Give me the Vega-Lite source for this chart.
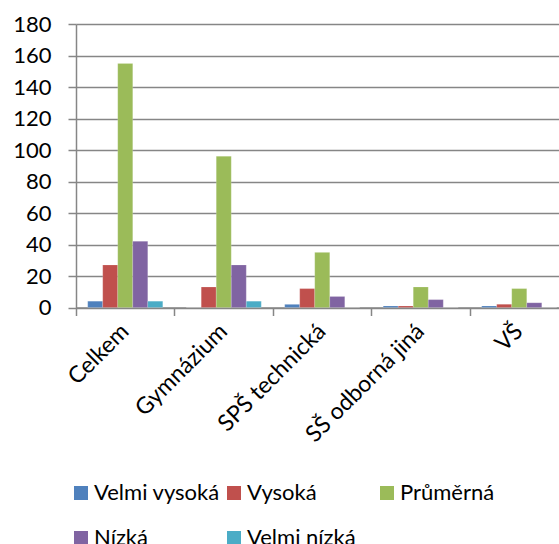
{
  "$schema": "https://vega.github.io/schema/vega-lite/v6.json",
  "autosize": {"type": "none"},
  "padding": {"left": 76, "top": 24, "right": 0, "bottom": 236.5},
  "width": 483,
  "height": 283.5,
  "background": "white",
  "config": {
    "font": "Lato",
    "view": {"stroke": null}
  },
  "data": {
    "values": [
      {"skola": "Celkem", "uroven": "Velmi vysoká", "pocet": 4},
      {"skola": "Celkem", "uroven": "Vysoká", "pocet": 27},
      {"skola": "Celkem", "uroven": "Průměrná", "pocet": 155},
      {"skola": "Celkem", "uroven": "Nízká", "pocet": 42},
      {"skola": "Celkem", "uroven": "Velmi nízká", "pocet": 4},
      {"skola": "Gymnázium", "uroven": "Velmi vysoká", "pocet": 0},
      {"skola": "Gymnázium", "uroven": "Vysoká", "pocet": 13},
      {"skola": "Gymnázium", "uroven": "Průměrná", "pocet": 96},
      {"skola": "Gymnázium", "uroven": "Nízká", "pocet": 27},
      {"skola": "Gymnázium", "uroven": "Velmi nízká", "pocet": 4},
      {"skola": "SPŠ technická", "uroven": "Velmi vysoká", "pocet": 2},
      {"skola": "SPŠ technická", "uroven": "Vysoká", "pocet": 12},
      {"skola": "SPŠ technická", "uroven": "Průměrná", "pocet": 35},
      {"skola": "SPŠ technická", "uroven": "Nízká", "pocet": 7},
      {"skola": "SPŠ technická", "uroven": "Velmi nízká", "pocet": 0},
      {"skola": "SŠ odborná jiná", "uroven": "Velmi vysoká", "pocet": 1},
      {"skola": "SŠ odborná jiná", "uroven": "Vysoká", "pocet": 1},
      {"skola": "SŠ odborná jiná", "uroven": "Průměrná", "pocet": 13},
      {"skola": "SŠ odborná jiná", "uroven": "Nízká", "pocet": 5},
      {"skola": "SŠ odborná jiná", "uroven": "Velmi nízká", "pocet": 0},
      {"skola": "VŠ", "uroven": "Velmi vysoká", "pocet": 1},
      {"skola": "VŠ", "uroven": "Vysoká", "pocet": 2},
      {"skola": "VŠ", "uroven": "Průměrná", "pocet": 12},
      {"skola": "VŠ", "uroven": "Nízká", "pocet": 3},
      {"skola": "VŠ", "uroven": "Velmi nízká", "pocet": 0}
    ]
  },
  "mark": {"type": "bar", "stroke": "white", "strokeOpacity": 0.35, "strokeWidth": 0.5},
  "encoding": {
    "x": {
      "field": "skola",
      "type": "nominal",
      "sort": ["Celkem", "Gymnázium", "SPŠ technická", "SŠ odborná jiná", "VŠ"],
      "scale": {"paddingInner": 0, "paddingOuter": 0, "range": [0, 492.5]},
      "axis": {
        "title": null,
        "bandPosition": 0,
        "labelAngle": -45,
        "labelAlign": "right",
        "labelBaseline": "middle",
        "labelFontSize": 23,
        "labelColor": "black",
        "labelPadding": 12,
        "tickSize": 8,
        "tickColor": "#868686",
        "tickWidth": 1.5,
        "domainColor": "#868686",
        "domainWidth": 1.5,
        "grid": false
      }
    },
    "xOffset": {
      "field": "uroven",
      "type": "nominal",
      "sort": ["Velmi vysoká", "Vysoká", "Průměrná", "Nízká", "Velmi nízká"],
      "scale": {"paddingInner": 0, "paddingOuter": 0.78}
    },
    "y": {
      "field": "pocet",
      "type": "quantitative",
      "scale": {"domain": [0, 180], "nice": false},
      "axis": {
        "title": null,
        "values": [0, 20, 40, 60, 80, 100, 120, 140, 160, 180],
        "labelFontSize": 22,
        "labelColor": "black",
        "labelPadding": 17,
        "tickSize": 8,
        "tickColor": "#868686",
        "tickWidth": 1.5,
        "domainColor": "#868686",
        "domainWidth": 1.5,
        "gridColor": "#868686",
        "gridWidth": 1.5
      }
    },
    "color": {
      "field": "uroven",
      "type": "nominal",
      "sort": ["Velmi vysoká", "Vysoká", "Průměrná", "Nízká", "Velmi nízká"],
      "scale": {
        "domain": ["Velmi vysoká", "Vysoká", "Průměrná", "Nízká", "Velmi nízká"],
        "range": ["#4F81BD", "#C0504D", "#9BBB59", "#8064A2", "#4BACC6"]
      },
      "legend": {
        "title": null,
        "orient": "none",
        "legendX": -6,
        "legendY": 458,
        "values": ["Velmi vysoká", "Nízká", "Vysoká", "Velmi nízká", "Průměrná"],
        "columns": 3,
        "gridAlign": "all",
        "columnPadding": 3,
        "rowPadding": 23,
        "symbolType": "square",
        "symbolSize": 196,
        "symbolStrokeWidth": 0,
        "labelFontSize": 22,
        "labelColor": "black",
        "labelOffset": 2
      }
    }
  }
}
